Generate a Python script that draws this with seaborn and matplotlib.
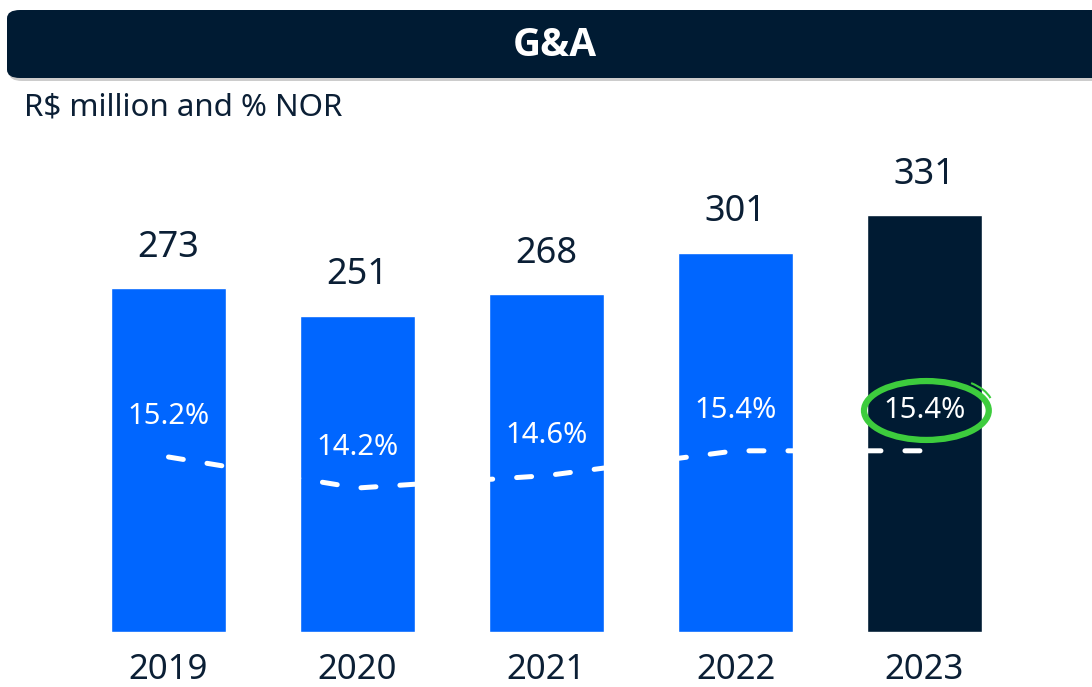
import matplotlib
matplotlib.use("Agg")
import matplotlib.pyplot as plt
import seaborn as sns
import numpy as np
from matplotlib.patches import FancyBboxPatch, Ellipse, Arc

# ---- data ----
years = ["2019", "2020", "2021", "2022", "2023"]
ga_values = [273, 251, 268, 301, 331]
pct_nor = [15.2, 14.2, 14.6, 15.4, 15.4]
pct_labels = ["15.2%", "14.2%", "14.6%", "15.4%", "15.4%"]
title = "G&A"
subtitle = "R$ million and % NOR"

BLUE = "#0066FF"
NAVY = "#001B33"
TEXT = "#0B1F35"
GREEN = "#3DCC3D"

sns.set_theme(style="white")
plt.rcParams["font.family"] = ["Noto Sans", "DejaVu Sans"]

W, H = 1092, 687
fig = plt.figure(figsize=(W / 100, H / 100), dpi=100)

ax_left_px, ax_right_px = 0, 1092
ax_bottom_px, ax_top_px = 632, 140
ax = fig.add_axes([ax_left_px / W, 1 - ax_bottom_px / H,
                   (ax_right_px - ax_left_px) / W, (ax_bottom_px - ax_top_px) / H])

colors = [BLUE, BLUE, BLUE, BLUE, NAVY]
sns.barplot(x=years, y=ga_values, hue=years, palette=colors, legend=False,
            width=0.61, saturation=1, ax=ax)

step = 189.0
ax.set_xlim(-168.5 / step, (1092 - 168.5) / step)
ax.set_ylim(0, (ax_bottom_px - ax_top_px) / 1.26)

for i, v in enumerate(ga_values):
    ax.annotate(f"{v}", (i, v), xytext=(0, 29), textcoords="offset points",
                ha="center", va="center", fontsize=26, color=TEXT)

ax.set_xlabel("")
ax.set_ylabel("")
ax.set_yticks([])
ax.tick_params(axis="x", length=0, pad=15, labelsize=25, labelcolor=TEXT)
for s in ax.spines.values():
    s.set_visible(False)

# secondary axis for % NOR
ax2 = ax.twinx()
ax2.set_ylim(15.2 - (632 - 457) / 31.0, 15.2 + (457 - 140) / 31.0)
x_pos = np.arange(len(years))
ax2.plot(x_pos, pct_nor, color="white", lw=3.6, dashes=(3, 4.8),
         dash_capstyle="round", solid_capstyle="round", zorder=3)
for i, (p, lab) in enumerate(zip(pct_nor, pct_labels)):
    ax2.annotate(lab, (i, p), xytext=(0, 29), textcoords="offset points",
                 ha="center", va="center", fontsize=21, color="white", zorder=5)
ax2.set_yticks([])
for s in ax2.spines.values():
    s.set_visible(False)

# green highlight ellipse around last label
ex, ey = len(years) - 1, pct_nor[-1] + 1.3
ax2.add_patch(Ellipse((ex + 0.01, ey), 0.66, 1.9, fill=False, ec=GREEN, lw=4.5, zorder=4))
ax2.add_patch(Arc((ex + 0.05, ey + 0.15), 0.62, 1.9, theta1=40, theta2=75,
                  ec=GREEN, lw=1.5, zorder=4))

# title banner
shadow = FancyBboxPatch((9 / W, 1 - 81 / H), 1.1, 66 / H,
                        boxstyle="round,pad=0,rounding_size=0.012",
                        transform=fig.transFigure, fc="#9a9a9a", ec="none",
                        alpha=0.5, zorder=0)
banner = FancyBboxPatch((7 / W, 1 - 78 / H), 1.1, 68 / H,
                        boxstyle="round,pad=0,rounding_size=0.012",
                        transform=fig.transFigure, fc=NAVY, ec="none", zorder=1)
fig.patches.extend([shadow, banner])
fig.text(555 / W, 1 - 45 / H, title, ha="center", va="center", fontsize=28,
         fontweight="bold", color="white", family=["Open Sans", "Lato", "DejaVu Sans"])
fig.text(24 / W, 1 - 107 / H, subtitle, ha="left", va="center", fontsize=22.5,
         color=TEXT)

fig.savefig("out.png", dpi=100)
